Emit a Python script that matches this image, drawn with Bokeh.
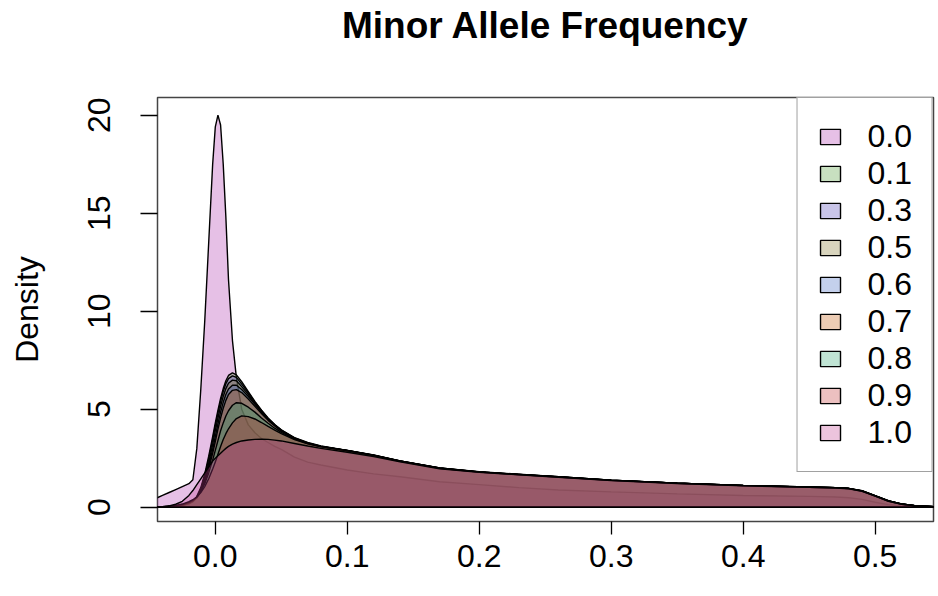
from bokeh.plotting import figure
from bokeh.models import Range1d, FixedTicker, Legend, LegendItem, PrintfTickFormatter, LinearAxis
from bokeh.embed import file_html
from bokeh.resources import INLINE

# Shared x grid for the density estimates
grid_x = [-0.050, -0.045, -0.040, -0.035, -0.030, -0.025, -0.020, -0.017, -0.014, -0.011,
          -0.008, -0.005, -0.002, 0.000, 0.002, 0.004, 0.006, 0.008, 0.010, 0.013,
          0.016, 0.020, 0.025, 0.030, 0.035, 0.040, 0.045, 0.050, 0.060, 0.070,
          0.080, 0.100, 0.120, 0.140, 0.170, 0.200, 0.230, 0.260, 0.300, 0.350,
          0.400, 0.450, 0.470, 0.480, 0.490, 0.500, 0.510, 0.520, 0.530, 0.545, 0.560]

labels = ["0.0", "0.1", "0.3", "0.5", "0.6", "0.7", "0.8", "0.9", "1.0"]

maf_00 = [0.30, 0.45, 0.60, 0.75, 0.90, 1.05, 1.20, 1.40, 3.00, 6.00, 9.50, 13.50, 17.50,
          19.40, 20.00, 19.50, 17.50, 14.80, 11.60, 8.50, 6.60, 5.00, 4.20, 3.80, 3.50, 3.30,
          3.10, 2.95, 2.55, 2.30, 2.15, 1.90, 1.70, 1.55, 1.30, 1.15, 1.00, 0.88, 0.78, 0.68,
          0.60, 0.55, 0.52, 0.48, 0.40, 0.25, 0.13, 0.06, 0.03, 0.01, 0.00]
maf_01 = [0.00, 0.00, 0.01, 0.02, 0.04, 0.08, 0.18, 0.30, 0.55, 1.00, 1.70, 2.60, 3.60,
          4.30, 4.95, 5.55, 6.05, 6.45, 6.72, 6.85, 6.75, 6.40, 5.90, 5.40, 4.95, 4.55,
          4.22, 3.95, 3.55, 3.30, 3.12, 2.90, 2.66, 2.36, 2.00, 1.80, 1.67, 1.55, 1.38, 1.23,
          1.11, 1.03, 1.00, 0.96, 0.83, 0.58, 0.32, 0.16, 0.07, 0.02, 0.00]
maf_03 = [0.00, 0.00, 0.01, 0.02, 0.04, 0.08, 0.17, 0.28, 0.50, 0.92, 1.60, 2.45, 3.45,
          4.15, 4.80, 5.40, 5.90, 6.30, 6.56, 6.70, 6.62, 6.28, 5.84, 5.36, 4.93, 4.53,
          4.21, 3.93, 3.53, 3.28, 3.11, 2.88, 2.64, 2.35, 1.99, 1.79, 1.66, 1.54, 1.37, 1.22,
          1.10, 1.02, 0.99, 0.95, 0.82, 0.57, 0.31, 0.15, 0.07, 0.02, 0.00]
maf_05 = [0.00, 0.00, 0.01, 0.02, 0.05, 0.09, 0.18, 0.28, 0.48, 0.85, 1.45, 2.25, 3.20,
          3.90, 4.55, 5.15, 5.65, 6.05, 6.32, 6.48, 6.45, 6.15, 5.75, 5.30, 4.88, 4.50,
          4.20, 3.92, 3.52, 3.27, 3.10, 2.89, 2.65, 2.36, 2.00, 1.80, 1.67, 1.55, 1.38, 1.23,
          1.11, 1.03, 1.00, 0.96, 0.84, 0.59, 0.33, 0.16, 0.07, 0.02, 0.00]
maf_06 = [0.00, 0.00, 0.01, 0.03, 0.05, 0.10, 0.20, 0.30, 0.48, 0.82, 1.35, 2.10, 2.95,
          3.60, 4.25, 4.85, 5.35, 5.75, 6.03, 6.22, 6.22, 6.00, 5.65, 5.25, 4.85, 4.48,
          4.18, 3.90, 3.51, 3.27, 3.10, 2.88, 2.64, 2.35, 1.99, 1.80, 1.67, 1.54, 1.38, 1.22,
          1.11, 1.02, 0.99, 0.95, 0.83, 0.58, 0.32, 0.16, 0.07, 0.02, 0.00]
maf_07 = [0.00, 0.01, 0.02, 0.03, 0.06, 0.11, 0.22, 0.32, 0.50, 0.80, 1.28, 1.95, 2.75,
          3.35, 3.98, 4.55, 5.05, 5.45, 5.75, 5.96, 6.00, 5.85, 5.52, 5.15, 4.78, 4.43,
          4.14, 3.88, 3.50, 3.26, 3.09, 2.89, 2.65, 2.36, 2.00, 1.81, 1.68, 1.55, 1.38, 1.23,
          1.11, 1.03, 1.00, 0.96, 0.84, 0.59, 0.33, 0.16, 0.07, 0.02, 0.00]
maf_08 = [0.00, 0.01, 0.02, 0.04, 0.07, 0.13, 0.25, 0.35, 0.52, 0.80, 1.20, 1.75, 2.40,
          2.90, 3.40, 3.90, 4.30, 4.65, 4.92, 5.20, 5.33, 5.30, 5.10, 4.85, 4.55, 4.28,
          4.03, 3.82, 3.48, 3.25, 3.09, 2.88, 2.64, 2.35, 1.99, 1.79, 1.66, 1.54, 1.37, 1.22,
          1.10, 1.02, 0.99, 0.95, 0.83, 0.58, 0.32, 0.16, 0.07, 0.02, 0.00]
maf_09 = [0.00, 0.01, 0.03, 0.05, 0.09, 0.16, 0.28, 0.38, 0.52, 0.75, 1.05, 1.45, 1.95,
          2.30, 2.70, 3.10, 3.45, 3.75, 4.00, 4.30, 4.52, 4.66, 4.62, 4.50, 4.32, 4.12,
          3.93, 3.75, 3.45, 3.23, 3.08, 2.87, 2.63, 2.34, 1.98, 1.79, 1.66, 1.54, 1.37, 1.22,
          1.10, 1.02, 0.99, 0.95, 0.82, 0.57, 0.31, 0.15, 0.07, 0.02, 0.00]
maf_10 = [0.00, 0.01, 0.03, 0.07, 0.15, 0.30, 0.60, 0.85, 1.15, 1.45, 1.75, 2.05, 2.35,
          2.50, 2.62, 2.75, 2.88, 3.00, 3.10, 3.22, 3.30, 3.38, 3.43, 3.46, 3.47, 3.46,
          3.42, 3.38, 3.25, 3.12, 3.00, 2.80, 2.58, 2.32, 1.96, 1.78, 1.65, 1.53, 1.36, 1.21,
          1.09, 1.01, 0.98, 0.94, 0.81, 0.56, 0.30, 0.15, 0.07, 0.02, 0.00]

series = [maf_00, maf_01, maf_03, maf_05, maf_06, maf_07, maf_08, maf_09, maf_10]
colors = ["#AC2DAC", "#48982D", "#483AB2", "#7D7023", "#3A62C0",
          "#C05505", "#2DA570", "#C02D2D", "#C03A8E"]

x_ticks = [0.0, 0.1, 0.2, 0.3, 0.4, 0.5]
y_ticks = [0, 5, 10, 15, 20]
title_text = "Minor Allele Frequency"

FONT = "Liberation Sans"

p = figure(width=938, height=596,
           x_range=Range1d(-0.0438, 0.5442), y_range=Range1d(-0.73, 20.9),
           output_backend="svg", toolbar_location=None,
           min_border_left=157, min_border_right=5, min_border_top=97, min_border_bottom=75)

p.xgrid.visible = False
p.ygrid.visible = False
p.outline_line_color = "#444444"
p.outline_line_width = 1.5
p.background_fill_color = "white"
p.border_fill_color = "white"

for ax in (p.xaxis[0], p.yaxis[0]):
    ax.axis_line_color = None
    ax.major_tick_line_color = "black"
    ax.major_tick_line_width = 1.3
    ax.major_tick_in = 0
    ax.minor_tick_line_color = None
    ax.major_label_text_font = FONT
    ax.major_label_text_font_size = "32px"
    ax.major_label_text_color = "black"

p.xaxis.ticker = FixedTicker(ticks=x_ticks)
p.xaxis.formatter = PrintfTickFormatter(format="%.1f")
p.xaxis.major_tick_out = 13
p.xaxis.major_label_standoff = 10

p.yaxis.ticker = FixedTicker(ticks=y_ticks)
p.yaxis.major_tick_out = 17
p.yaxis.major_label_standoff = 30
p.yaxis.major_label_orientation = "vertical"
p.yaxis.axis_label = "Density"
p.yaxis.axis_label_text_font = FONT
p.yaxis.axis_label_text_font_size = "32px"
p.yaxis.axis_label_text_font_style = "normal"
p.yaxis.axis_label_text_color = "black"
p.yaxis.axis_label_standoff = 41

# Title carried by a tick-less axis above the frame
title_axis = LinearAxis(ticker=FixedTicker(ticks=[]), axis_line_color=None,
                        major_tick_line_color=None, minor_tick_line_color=None,
                        major_tick_out=0, major_tick_in=0, major_label_standoff=0,
                        axis_label=title_text, axis_label_standoff=52,
                        axis_label_text_font=FONT, axis_label_text_font_size="37px",
                        axis_label_text_font_style="bold", axis_label_text_color="black")
p.add_layout(title_axis, "above")

items = []
for lbl, vals, col in zip(labels, series, colors):
    xs = [grid_x[0]] + grid_x + [grid_x[-1]]
    ys = [0] + vals + [0]
    r = p.patch(xs, ys, fill_color=col, fill_alpha=0.3,
                line_color="black", line_width=1.4)
    items.append(LegendItem(label=lbl, renderers=[r]))

legend = Legend(items=items, location="top_right", margin=0, padding=20, spacing=0,
                label_height=37, glyph_height=19, glyph_width=25, label_standoff=25,
                label_text_font=FONT, label_text_font_size="32px", label_text_color="black",
                border_line_color="#444444", border_line_width=1.3,
                background_fill_color="white", background_fill_alpha=1.0)
p.add_layout(legend)

open("out.html", "w").write(file_html(p, INLINE))
